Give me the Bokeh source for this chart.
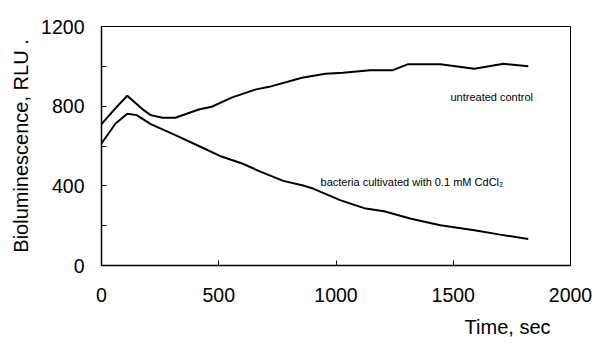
from bokeh.plotting import figure
from bokeh.models import Range1d, FixedTicker, Label, Title
from bokeh.embed import file_html
from bokeh.resources import INLINE

# Data
t_control = [0, 60, 110, 180, 210, 260, 315, 415, 470, 555, 655, 715, 855, 955, 1030, 1145, 1240, 1305, 1445, 1590, 1715, 1820]
v_control = [710, 790, 852, 780, 755, 742, 742, 783, 797, 843, 883, 897, 943, 963, 968, 980, 980, 1010, 1010, 988, 1013, 1000]

t_cd = [0, 60, 110, 150, 210, 315, 415, 505, 600, 680, 775, 860, 905, 1020, 1120, 1205, 1320, 1445, 1590, 1700, 1820]
v_cd = [613, 713, 762, 755, 710, 655, 600, 550, 512, 470, 425, 402, 385, 327, 288, 272, 235, 202, 177, 155, 133]

x_ticks = [0, 500, 1000, 1500, 2000]
y_ticks = [0, 400, 800, 1200]
y_minor = [200, 600, 1000]

FONT = "Liberation Sans"

p = figure(width=594, height=347, output_backend="svg", toolbar_location=None,
           x_range=Range1d(0, 2000), y_range=Range1d(0, 1200),
           min_border_left=101, min_border_right=24, min_border_top=26, min_border_bottom=81)
p.grid.visible = False
p.outline_line_color = "black"
p.outline_line_width = 1
p.background_fill_color = "white"
p.border_fill_color = "white"

p.line(t_control, v_control, line_color="black", line_width=2)
p.line(t_cd, v_cd, line_color="black", line_width=2)

for ax in (p.xaxis[0], p.yaxis[0]):
    ax.axis_line_color = "black"
    ax.axis_line_width = 1.5
    ax.major_tick_in = 5
    ax.major_tick_out = 0
    ax.minor_tick_in = 5
    ax.minor_tick_out = 0
    ax.major_tick_line_color = "black"
    ax.minor_tick_line_color = "black"
    ax.major_label_text_font = FONT
    ax.major_label_text_font_size = "19.5px"
    ax.major_label_text_color = "black"

p.xaxis[0].ticker = FixedTicker(ticks=x_ticks, minor_ticks=[])
p.xaxis[0].major_label_standoff = 22
p.yaxis[0].ticker = FixedTicker(ticks=y_ticks, minor_ticks=y_minor)
p.yaxis[0].major_label_standoff = 17
p.yaxis[0].axis_label = "Bioluminescence, RLU ."
p.yaxis[0].axis_label_text_font = FONT
p.yaxis[0].axis_label_text_font_size = "20px"
p.yaxis[0].axis_label_text_font_style = "normal"
p.yaxis[0].axis_label_text_color = "black"
p.yaxis[0].axis_label_standoff = 6

p.add_layout(Title(text="Time, sec", align="right", offset=20, standoff=19,
                   text_font=FONT, text_font_size="20px", text_font_style="normal",
                   text_color="black"), "below")
p.add_layout(Label(x=1488, y=846, text="untreated control", text_align="left", text_baseline="middle",
                   text_font=FONT, text_font_size="11px", text_color="black"))
p.add_layout(Label(x=934, y=421, text="bacteria cultivated with 0.1 mM CdCl\u2082", text_align="left",
                   text_baseline="middle", text_font=FONT, text_font_size="11px", text_color="black"))

open("out.html", "w").write(file_html(p, INLINE))
